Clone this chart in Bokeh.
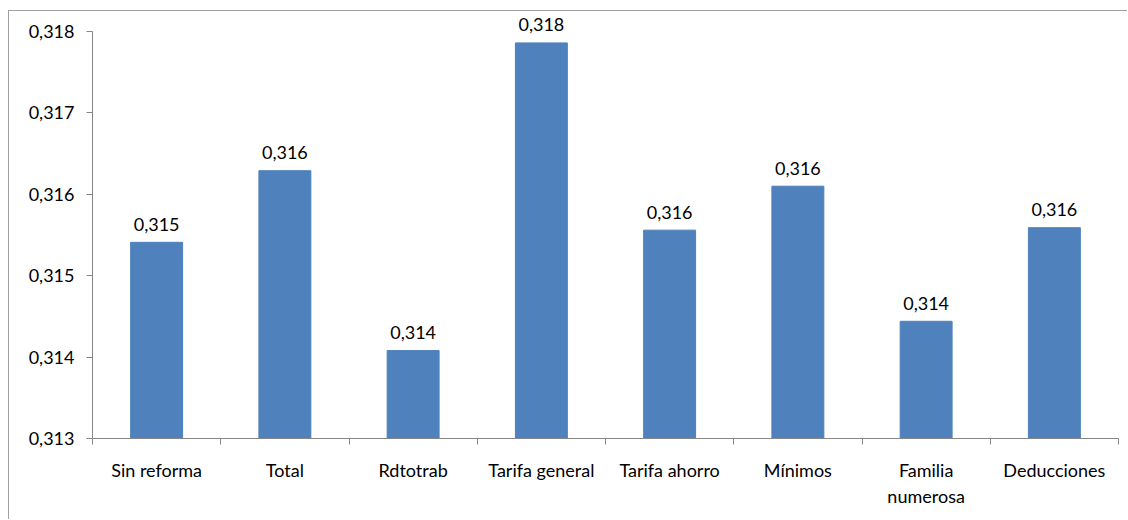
from bokeh.plotting import figure
from bokeh.models import (Range1d, FixedTicker, CustomJSTickFormatter,
                          ColumnDataSource)
from bokeh.core.properties import value
from bokeh.embed import file_html
from bokeh.resources import INLINE

categories = ["Sin reforma", "Total", "Rdtotrab", "Tarifa general",
              "Tarifa ahorro", "Mínimos", "Familia numerosa", "Deducciones"]
values = [0.31541, 0.31629, 0.31408, 0.31786, 0.31556, 0.31610, 0.31444, 0.31559]
y_ticks = [0.313, 0.314, 0.315, 0.316, 0.317, 0.318]
display_names = {"Familia numerosa": "Familia\nnumerosa"}

FONT = "Lato"
FS = "18px"
TXT = "#000000"
AXIS = "#868686"
BAR = "#4F81BD"

n = len(categories)
centers = [i + 0.5 for i in range(n)]          # category slot centres
bounds_x = list(range(n + 1))                  # category slot boundaries
labels = [f"{v:.3f}".replace(".", ",") for v in values]
src = ColumnDataSource(dict(x=centers, val=values, lab=labels))

y0, y1 = y_ticks[0], y_ticks[-1]
p = figure(width=1119, height=509,
           x_range=Range1d(0, n),
           y_range=Range1d(y0, y1 + 0.000246),
           output_backend="svg", toolbar_location=None,
           x_axis_location="below", y_axis_location="left",
           min_border_left=83, min_border_right=10, min_border_top=0,
           min_border_bottom=82)
p.styles = {"margin-left": "8px", "margin-top": "10px",
            "border-left": "1px solid #a0a0a0", "border-top": "1px solid #a0a0a0"}
p.outline_line_color = None
p.xgrid.visible = False
p.ygrid.visible = False
p.background_fill_color = "white"
p.border_fill_color = "white"

p.vbar(x="x", top="val", bottom=y0, width=0.405, color=BAR, source=src)
p.text(x="x", y="val", text="lab", source=src, text_align="center",
       text_baseline="alphabetic", y_offset=-18, text_font=value(FONT),
       text_font_size=FS, text_color=TXT)

# y axis
ya = p.yaxis[0]
ya.ticker = FixedTicker(ticks=y_ticks)
ya.bounds = (y0, y1)
ya.formatter = CustomJSTickFormatter(code="return tick.toFixed(3).replace('.', ',');")
ya.axis_line_color = AXIS
ya.major_tick_line_color = AXIS
ya.major_tick_out = 6
ya.major_tick_in = 0
ya.minor_tick_line_color = None
ya.major_label_standoff = 12
ya.major_label_text_font = FONT
ya.major_label_text_font_size = FS
ya.major_label_text_color = TXT

# x axis: names at slot centres, ticks (minor) on slot boundaries
xa = p.xaxis[0]
xa.ticker = FixedTicker(ticks=centers, minor_ticks=bounds_x)
xa.major_label_overrides = {c: display_names.get(name, name)
                            for c, name in zip(centers, categories)}
xa.axis_line_color = AXIS
xa.major_tick_line_color = None
xa.major_tick_out = 0
xa.major_tick_in = 0
xa.minor_tick_line_color = AXIS
xa.minor_tick_out = 6
xa.minor_tick_in = 0
xa.major_label_standoff = 14
xa.major_label_text_font = FONT
xa.major_label_text_font_size = FS
xa.major_label_text_color = TXT

open("out.html", "w").write(file_html(p, INLINE))
